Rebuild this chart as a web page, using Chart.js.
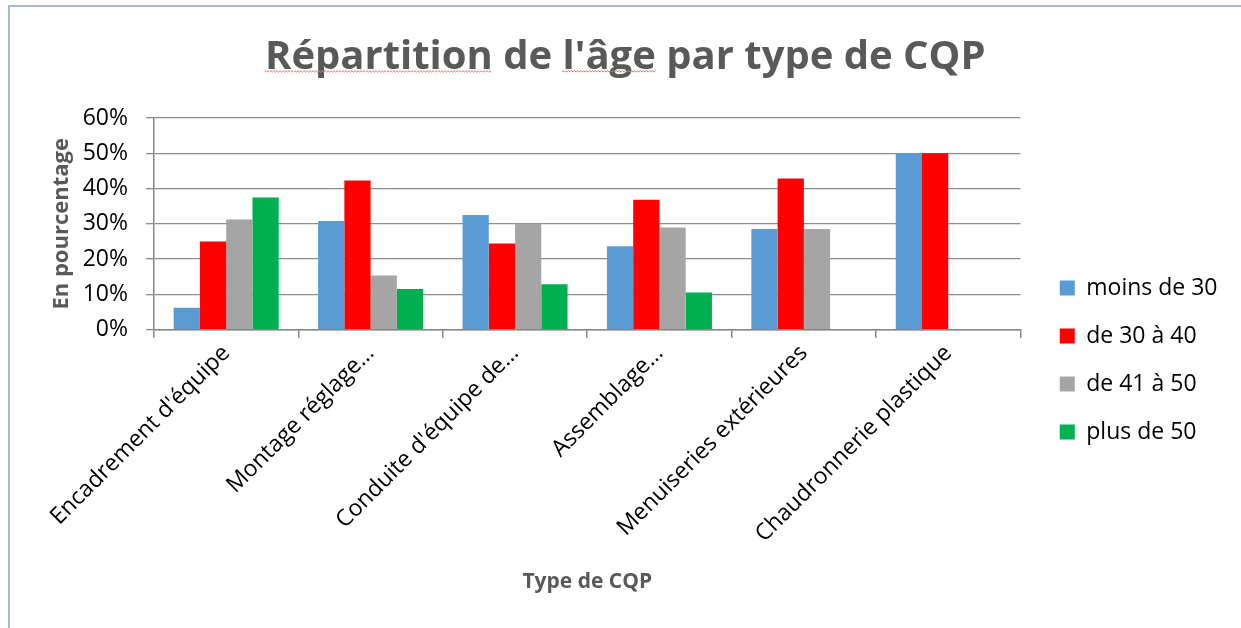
<!DOCTYPE html>
<html>
<head>
<meta charset="utf-8">
<script src="https://cdn.jsdelivr.net/npm/chart.js@4"></script>
<style>
  html, body { margin: 0; padding: 0; background: #fff; overflow: hidden; }
  #wrap { position: relative; width: 1241px; height: 628px; }
  #frame { position: absolute; left: 8px; top: 5px; width: 1300px; height: 700px;
           border-left: 2px solid #aab9cd; border-top: 2px solid #aab9cd; pointer-events: none; }
  canvas { position: absolute; left: 0; top: 0; }
</style>
</head>
<body>
<div id="wrap">
  <canvas id="c" width="1241" height="628"></canvas>
  <div id="frame"></div>
</div>
<script>
const categories = ["Encadrement d'équipe", "Montage réglage…", "Conduite d'équipe de…", "Assemblage…", "Menuiseries extérieures", "Chaudronnerie plastique"];
const seriesNames = ["moins de 30", "de 30 à 40", "de 41 à 50", "plus de 50"];
const moinsDe30 = [6.25, 30.77, 32.5, 23.68, 28.57, 50];
const de30a40 = [25, 42.31, 24.4, 36.84, 42.86, 50];
const de41a50 = [31.25, 15.38, 30, 28.95, 28.57, 0];
const plusDe50 = [37.5, 11.54, 12.9, 10.53, 0, 0];
const yTickLabels = ["0%", "10%", "20%", "30%", "40%", "50%", "60%"];
const seriesColors = ["#5B9BD5", "#FF0000", "#A5A5A5", "#00B050"];

const titleText = "Répartition de l'âge par type de CQP";
const titleFont = { family: "Open Sans", weight: "bold", size: 40 };

const squiggle = {
  id: 'squiggle',
  afterDraw(chart) {
    const tb = chart.titleBlock;
    if (!tb) return;
    const ctx = chart.ctx;
    ctx.save();
    ctx.font = `bold ${titleFont.size}px "${titleFont.family}"`;
    ctx.textBaseline = 'middle';
    const full = ctx.measureText(titleText).width;
    const cx = (tb.left + tb.right) / 2;
    const x0 = cx - full / 2;
    const lineH = titleFont.size * 1.2;
    const cy = tb.top + tb.options.padding.top + lineH / 2;
    const base = cy + ctx.measureText('R').actualBoundingBoxDescent;
    const y = base + 2;
    const parts = [["", "Répartition"], ["Répartition de ", "l'âge"]];
    ctx.strokeStyle = "#e57373";
    ctx.lineWidth = 1;
    parts.forEach(([pre, w]) => {
      const s = x0 + ctx.measureText(pre).width;
      const e = s + ctx.measureText(w).width;
      ctx.beginPath();
      let up = true;
      ctx.moveTo(s, y);
      for (let x = s; x <= e; x += 1.5) { ctx.lineTo(x, y + (up ? -0.7 : 0.7)); up = !up; }
      ctx.stroke();
    });
    ctx.restore();
  }
};

Chart.defaults.color = "#000";
Chart.defaults.font.family = "Open Sans";

new Chart(document.getElementById('c'), {
  type: 'bar',
  data: {
    labels: categories,
    datasets: [
      { label: seriesNames[0], data: moinsDe30, backgroundColor: seriesColors[0] },
      { label: seriesNames[1], data: de30a40, backgroundColor: seriesColors[1] },
      { label: seriesNames[2], data: de41a50, backgroundColor: seriesColors[2] },
      { label: seriesNames[3], data: plusDe50, backgroundColor: seriesColors[3] }
    ]
  },
  options: {
    responsive: false,
    animation: false,
    devicePixelRatio: 1,
    layout: { padding: { left: 23, right: 13.5, top: 0, bottom: 33 } },
    datasets: { bar: { categoryPercentage: 4 / 5.5, barPercentage: 1, borderWidth: 0 } },
    plugins: {
      title: { display: true, text: titleText, color: "#595959", font: titleFont, padding: { top: 34, bottom: 36 } },
      legend: {
        position: 'right',
        title: { display: true, text: ' ', font: { size: 10 }, padding: { top: 0, bottom: 113 } },
        labels: { boxWidth: 15, boxHeight: 15, padding: 25, font: { size: 23 }, color: "#000" }
      },
      tooltip: { enabled: false }
    },
    scales: {
      x: {
        grid: { display: true, drawOnChartArea: false, drawTicks: true, tickLength: 8, offset: true, color: "#868686", lineWidth: 1.5 },
        border: { color: "#868686", width: 1.5 },
        ticks: { autoSkip: false, maxRotation: 45, minRotation: 45, font: { size: 23 }, color: "#000", padding: 2 },
        title: { display: true, text: "Type de CQP", color: "#595959", font: { size: 21, weight: "bold" }, padding: { top: 20, bottom: 0 } }
      },
      y: {
        min: 0, max: 60,
        afterFit: (s) => { s.width = 131; },
        ticks: { stepSize: 10, font: { size: 23 }, color: "#000", padding: 18,
                 callback: (v, i) => yTickLabels[i] },
        grid: { color: "#8c8c8c", lineWidth: 1.3, tickLength: 8 },
        border: { color: "#868686", width: 1.5 },
        title: { display: true, text: "En pourcentage", color: "#595959", font: { size: 22, weight: "bold" }, padding: { top: 26, bottom: 0 } }
      },
      gap: {
        type: 'linear', position: 'right', display: true,
        afterFit: (s) => { s.width = 14.3; },
        grid: { display: false }, border: { display: false }, ticks: { display: false }
      }
    }
  },
  plugins: [squiggle]
});
</script>
</body>
</html>
